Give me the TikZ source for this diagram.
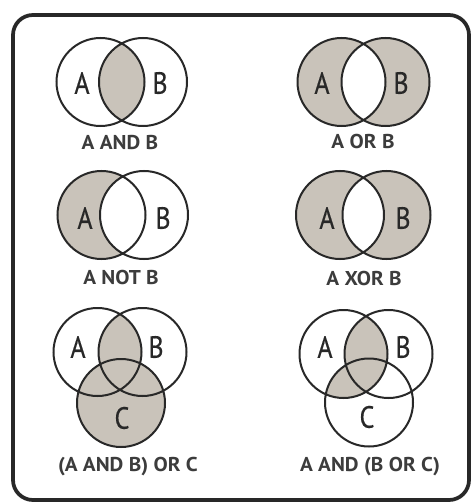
\documentclass[tikz,border=0pt]{standalone}
\usepackage{fontspec}
\newfontfamily\vennletter[FakeStretch=0.85,FakeBold=0.4]{PT Sans}
\newfontfamily\vennlabel[FakeStretch=1.06]{PT Sans Bold}
\definecolor{shade}{RGB}{201,195,186}
\definecolor{ink}{RGB}{40,40,40}
\definecolor{labelink}{RGB}{60,60,60}
\begin{document}
\begin{tikzpicture}[x=0.75pt,y=-0.75pt,
  ring/.style={draw=ink,line width=1.5pt},
  letter/.style={font=\vennletter\fontsize{23}{23}\selectfont,text=ink,inner sep=0pt},
  caption/.style={font=\vennlabel\fontsize{15}{16}\selectfont,text=labelink,inner sep=0pt},
  zone/.style={fill=shade}]
\def\R{33pt}
\useasboundingbox (0,0) rectangle (472,502);
\fill[white] (0,0) rectangle (472,502);
\draw[line width=2.8pt, rounded corners=15pt, draw=ink] (13,15) rectangle (469,500);

% circle centres
\coordinate (p1a) at (100.5,82);  \coordinate (p1b) at (143,82);
\coordinate (p2a) at (341.5,82);  \coordinate (p2b) at (385.5,82);
\coordinate (p3a) at (101.5,215); \coordinate (p3b) at (144,215);
\coordinate (p4a) at (340,215);   \coordinate (p4b) at (386.5,215);
\coordinate (p5a) at (97.5,352);  \coordinate (p5b) at (142.5,352); \coordinate (p5c) at (121,403);
\coordinate (p6a) at (343.5,354); \coordinate (p6b) at (388.5,354); \coordinate (p6c) at (369,402.5);

% A AND B
\begin{scope}
  \clip (p1a) circle[radius=\R];
  \fill[zone] (p1b) circle[radius=\R];
\end{scope}
% A OR B (outer parts)
\fill[zone,even odd rule] (p2a) circle[radius=\R] (p2b) circle[radius=\R];
% A NOT B
\begin{scope}
  \clip (p3a) circle[radius=\R];
  \fill[zone,even odd rule] (p3a) circle[radius=\R] (p3b) circle[radius=\R];
\end{scope}
% A XOR B
\fill[zone,even odd rule] (p4a) circle[radius=\R] (p4b) circle[radius=\R];
% (A AND B) OR C
\begin{scope}
  \clip (p5a) circle[radius=\R];
  \fill[zone] (p5b) circle[radius=\R];
\end{scope}
\fill[zone] (p5c) circle[radius=\R];
% A AND (B OR C)
\begin{scope}
  \clip (p6a) circle[radius=\R];
  \fill[zone] (p6b) circle[radius=\R];
  \fill[zone] (p6c) circle[radius=\R];
\end{scope}

% outlines
\draw[ring] (p1a) circle[radius=\R] (p1b) circle[radius=\R];
\draw[ring] (p2a) circle[radius=\R] (p2b) circle[radius=\R];
\draw[ring] (p3a) circle[radius=\R] (p3b) circle[radius=\R];
\draw[ring] (p4a) circle[radius=\R] (p4b) circle[radius=\R];
\draw[ring] (p5a) circle[radius=\R] (p5b) circle[radius=\R] (p5c) circle[radius=\R];
\draw[ring] (p6a) circle[radius=\R] (p6b) circle[radius=\R] (p6c) circle[radius=\R];

% set letters
\node[letter] (l1a) at (82,83) {A};   \node[letter] (l1b) at (160,83) {B};
\node[letter] (l2a) at (322,83) {A};  \node[letter] (l2b) at (401,83) {B};
\node[letter] (l3a) at (85,218) {A};  \node[letter] (l3b) at (163,218) {B};
\node[letter] (l4a) at (327,218) {A}; \node[letter] (l4b) at (403,218) {B};
\node[letter] (l5a) at (78,347) {A};  \node[letter] (l5b) at (156,347) {B}; \node[letter] (l5c) at (122,418) {C};
\node[letter] (l6a) at (325,347) {A}; \node[letter] (l6b) at (403,347) {B}; \node[letter] (l6c) at (367,417) {C};

% captions
\node[caption] (c1) at (120,143) {A AND B};
\node[caption] (c2) at (363,142) {A OR B};
\node[caption] (c3) at (121,277) {A NOT B};
\node[caption] (c4) at (364,278) {A XOR B};
\node[caption] (c5) at (128,467) {(A AND B) OR C};
\node[caption] (c6) at (370,467) {A AND (B OR C)};
\end{tikzpicture}
\end{document}
